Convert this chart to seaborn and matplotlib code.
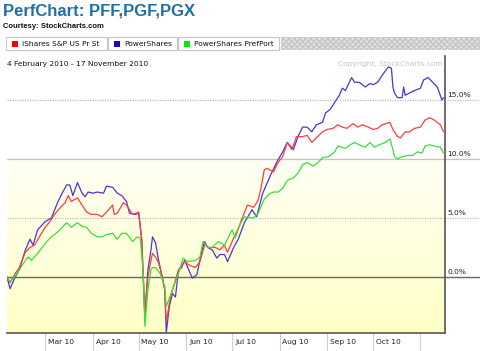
import numpy as np
import pandas as pd
import matplotlib
matplotlib.use("Agg")
import matplotlib.pyplot as plt
import matplotlib.dates as mdates
import matplotlib.transforms as mtransforms
from matplotlib.colors import LinearSegmentedColormap
from matplotlib.patches import Rectangle
import seaborn as sns

# Periodo do grafico
start = pd.Timestamp("2010-02-04")
end = pd.Timestamp("2010-11-17")

# Series (dias desde 4 fev 2010, variacao %)
pgf_days = [0, 2, 5, 8, 12, 15, 17, 20, 25, 29, 33, 36, 39, 41, 43, 46, 49, 51, 53, 56,
            59, 63, 65, 69, 72, 75, 78, 80, 84, 86, 88, 90, 92, 94, 95, 97, 99, 101, 103, 104,
            106, 108, 110, 112, 114, 116, 118, 121, 124, 127, 129, 131, 134, 137, 139, 142, 144, 148, 151, 155,
            160, 163, 167, 172, 176, 180, 183, 187, 190, 193, 196, 199, 202, 206, 208, 211, 214, 217, 219, 221,
            225, 227, 230, 234, 237, 239, 242, 245, 249, 251, 252, 253, 255, 258, 259, 260, 263, 266, 270, 272,
            275, 278, 281, 284, 285]
pgf_pct = [0.0, -1.0, -0.1, 0.6, 2.3, 3.2, 2.7, 4.0, 4.7, 5.0, 6.3, 7.1, 7.8, 7.8, 6.9, 8.0, 7.1, 6.8, 7.2, 7.1,
           7.2, 7.1, 7.7, 7.6, 7.1, 6.9, 6.4, 5.4, 5.3, 5.4, 3.1, -3.4, 0.6, 2.3, 3.4, 2.9, 1.4, 0.2, -1.1, -4.7,
           -2.5, -1.4, -1.7, 0.6, 0.8, 1.4, 0.8, -0.1, 0.2, 2.1, 3.0, 2.5, 2.3, 1.6, 1.9, 1.9, 1.3, 2.5, 3.2, 4.6,
           5.7, 5.1, 7.1, 8.6, 9.7, 10.6, 11.4, 10.8, 11.9, 12.7, 12.7, 12.3, 12.9, 13.1, 13.9, 14.2, 14.8, 15.4, 16.0, 15.8,
           16.9, 16.5, 16.5, 16.1, 16.4, 16.3, 16.5, 17.1, 17.8, 17.7, 16.1, 15.6, 15.2, 15.2, 16.1, 15.4, 15.6, 15.8, 16.0, 16.7,
           16.9, 16.5, 16.1, 15.0, 15.2]

pff_days = [0, 2, 5, 8, 12, 15, 18, 22, 25, 28, 31, 35, 38, 40, 42, 46, 49, 52, 55, 59,
            62, 65, 69, 70, 72, 76, 78, 82, 84, 86, 88, 90, 92, 94, 95, 97, 99, 101, 103, 104,
            106, 108, 112, 114, 116, 119, 123, 126, 129, 132, 136, 139, 142, 144, 148, 151, 153, 157, 161, 164,
            166, 168, 170, 174, 177, 180, 183, 186, 189, 193, 196, 199, 202, 206, 209, 213, 216, 219, 222, 226,
            229, 232, 236, 239, 242, 245, 250, 252, 255, 257, 260, 263, 266, 270, 273, 276, 279, 283, 285]
pff_pct = [0.0, -0.5, 0.2, 0.8, 2.1, 2.5, 2.7, 3.6, 4.2, 4.7, 5.3, 5.9, 6.3, 6.9, 6.4, 6.7, 6.1, 5.5, 5.3, 5.3,
           5.1, 5.5, 6.1, 5.3, 5.4, 6.3, 6.1, 5.3, 5.4, 5.5, 3.1, -3.1, 0.0, 1.4, 2.0, 1.7, 1.2, 0.2, -1.1, -3.9,
           -2.2, -1.1, 0.6, 1.0, 1.3, 1.0, 0.8, 1.3, 2.7, 2.5, 2.5, 2.3, 2.7, 2.1, 3.3, 4.1, 4.8, 6.1, 5.9, 6.5,
           7.6, 9.1, 9.2, 8.9, 9.7, 10.2, 11.4, 10.8, 11.9, 11.9, 12.0, 11.4, 11.8, 12.3, 12.5, 12.6, 12.9, 12.7, 12.6, 13.0,
           12.7, 12.9, 12.7, 12.5, 12.6, 12.9, 13.1, 12.5, 11.9, 11.8, 12.3, 12.3, 12.6, 12.7, 13.3, 13.5, 13.3, 12.9, 12.3]

pgx_days = [0, 2, 5, 8, 12, 14, 16, 20, 23, 26, 29, 33, 36, 39, 42, 46, 49, 52, 55, 59,
            62, 65, 69, 72, 75, 78, 82, 85, 87, 89, 90, 92, 94, 95, 97, 100, 103, 104, 106, 108,
            112, 115, 118, 123, 126, 128, 131, 134, 138, 142, 147, 149, 152, 155, 161, 164, 168, 172, 174, 177,
            180, 183, 187, 190, 193, 196, 200, 203, 206, 210, 214, 216, 221, 224, 227, 230, 234, 237, 240, 243,
            247, 250, 252, 253, 255, 258, 262, 265, 268, 271, 273, 276, 279, 283, 285]
pgx_pct = [0.0, -0.4, 0.0, 0.6, 1.4, 1.7, 1.4, 2.0, 2.5, 3.0, 3.4, 3.8, 4.2, 4.6, 4.2, 4.6, 4.3, 4.2, 3.7, 3.4,
           3.4, 3.6, 3.7, 3.2, 3.7, 3.7, 3.0, 3.4, 3.3, 0.3, -4.2, -1.1, 0.6, 0.8, 0.8, 0.3, -0.8, -2.5, -1.8, -1.1,
           0.3, 1.6, 1.3, 1.4, 1.7, 3.0, 2.5, 2.5, 3.0, 2.7, 4.0, 3.3, 4.4, 5.1, 5.0, 5.4, 6.6, 7.1, 7.2, 7.2,
           7.5, 8.2, 8.4, 8.8, 9.5, 9.7, 9.4, 9.7, 10.1, 10.2, 10.6, 11.1, 10.9, 11.2, 11.4, 11.2, 11.0, 11.4, 11.0, 11.2,
           11.4, 11.7, 10.8, 10.2, 10.0, 10.2, 10.3, 10.3, 10.6, 10.5, 11.1, 11.2, 11.1, 11.0, 10.5]

series_names = ["PowerShares", "iShares S&P US Pr St", "PowerShares PrefPort"]
series_colors = ["#4b35d2", "#ff3c3c", "#38e038"]
legend_colors = ["#ff0000", "#2200cc", "#00ee00"]
legend_labels = ["iShares S&P US Pr St", "PowerShares", "PowerShares PrefPort"]

grid_levels = [15, 10, 5, 0]
grid_labels = ["15.0%", "10.0%", "5.0%", "0.0%"]
month_labels = ["Mar 10", "Apr 10", "May 10", "Jun 10", "Jul 10", "Aug 10", "Sep 10", "Oct 10"]

frames = []
for name, days, pct in zip(series_names, [pgf_days, pff_days, pgx_days], [pgf_pct, pff_pct, pgx_pct]):
    frames.append(pd.DataFrame({
        "date": start + pd.to_timedelta(days, unit="D"),
        "pct": pct,
        "serie": name,
    }))
df = pd.concat(frames, ignore_index=True)

# Estilo
sns.set_theme(style="white")
plt.rcParams["font.family"] = ["DejaVu Sans"]

W, H = 480, 351
fig = plt.figure(figsize=(4.8, 3.51), dpi=100)
fig.patch.set_facecolor("white")


def fx(px):
    return px / W


def fy(py):
    return 1 - py / H


ax = fig.add_axes([fx(7), fy(333), fx(445) - fx(7), fy(56) - fy(333)])
ax.set_facecolor("white")
ymin, ymax = -4.75, 18.73

# fundo amarelo abaixo de 10%
x0, x1 = mdates.date2num(start), mdates.date2num(end)
grad = np.linspace(0, 1, 200).reshape(-1, 1)
cmap = LinearSegmentedColormap.from_list("amarelo", ["#ffffc6", "#fffff4"])
ax.imshow(grad, extent=[x0, x1, ymin, 10], origin="lower", aspect="auto", cmap=cmap, zorder=0)

# linhas de grade que se estendem ate a borda direita
ext = (W - 7) / (445 - 7)
styles = [
    dict(color="#bdbdbd", lw=0.9, ls=(0, (1, 1))),
    dict(color="#c4c4c4", lw=0.9, ls="-"),
    dict(color="#bdbdbd", lw=0.9, ls=(0, (1, 1))),
    dict(color="#666666", lw=1.0, ls="-"),
]
trans_y = mtransforms.blended_transform_factory(ax.transAxes, ax.transData)
for lvl, lab, st in zip(grid_levels, grid_labels, styles):
    ax.axhline(lvl, xmin=0, xmax=ext, clip_on=False, zorder=1, **st)
    ax.text(1.006, lvl + 0.15, lab, transform=trans_y, ha="left", va="bottom",
            fontsize=5.4, color="#222222")

sns.lineplot(data=df, x="date", y="pct", hue="serie", hue_order=series_names,
             palette=series_colors, legend=False, linewidth=0.9, ax=ax, zorder=3)

ax.set_xlim(x0, x1)
ax.set_ylim(ymin, ymax)
ax.set_xlabel("")
ax.set_ylabel("")
ax.set_yticks([])

months = pd.date_range("2010-03-01", "2010-11-01", freq="MS")
ax.set_xticks(mdates.date2num(months))
ax.set_xticklabels([])
ax.tick_params(axis="x", direction="out", length=13, width=0.8, color="#cfcfcf", bottom=True)
for m, lab in zip(months[:-1], month_labels):
    ax.annotate(lab, xy=(mdates.date2num(m), 0), xycoords=ax.get_xaxis_transform(),
                xytext=(2.0, -6.5), textcoords="offset points", ha="left", va="center",
                fontsize=5.4, color="#222222", annotation_clip=False)

for side in ["left", "top"]:
    ax.spines[side].set_visible(False)
for side in ["right", "bottom"]:
    ax.spines[side].set_color("#555555")
    ax.spines[side].set_linewidth(1.2)

ax.text(0.0, 0.97, "4 February 2010 - 17 November 2010", transform=ax.transAxes,
        ha="left", va="center", fontsize=5.4, color="#111111")
ax.text(0.995, 0.97, "Copyright, StockCharts.com", transform=ax.transAxes,
        ha="right", va="center", fontsize=5.4, color="#c4c4c4", zorder=2)

# Cabecalho
fig.text(fx(3), fy(11), "PerfChart: PFF,PGF,PGX", fontsize=12, fontweight="bold", color="#2070a6",
         family=["Liberation Sans", "DejaVu Sans"], ha="left", va="center")
fig.text(fx(3), fy(27), "Courtesy: StockCharts.com", fontsize=5.5, fontweight="bold",
         family=["Liberation Sans", "DejaVu Sans"], color="#111111", ha="left", va="center")

# Abas da legenda
tabs = [(6, 107), (108, 177), (178, 279)]
for (a, b), lab, col in zip(tabs, legend_labels, legend_colors):
    fig.patches.append(Rectangle((fx(a + 1), fy(51)), fx(b - a), fy(38) - fy(51),
                                 transform=fig.transFigure, facecolor="#b0b0b0",
                                 edgecolor="none", zorder=1))
    fig.patches.append(Rectangle((fx(a), fy(50)), fx(b - a), fy(37) - fy(50),
                                 transform=fig.transFigure, facecolor="white",
                                 edgecolor="#c8c8c8", linewidth=0.8, zorder=2))
    fig.patches.append(Rectangle((fx(a + 6), fy(47)), fx(6), fy(41) - fy(47),
                                 transform=fig.transFigure, facecolor=col,
                                 edgecolor="none", zorder=3))
    fig.text(fx(a + 16), fy(43.5), lab, fontsize=5.4, color="#111111",
             ha="left", va="center", zorder=4)

band = Rectangle((fx(281), fy(50)), fx(W - 281), fy(37) - fy(50), transform=fig.transFigure,
                 facecolor="#e2e2e2", edgecolor="#c6c6c6", hatch="xxxxxx", linewidth=0, zorder=1)
fig.patches.append(band)

fig.savefig("out.png", dpi=100, facecolor="white")
